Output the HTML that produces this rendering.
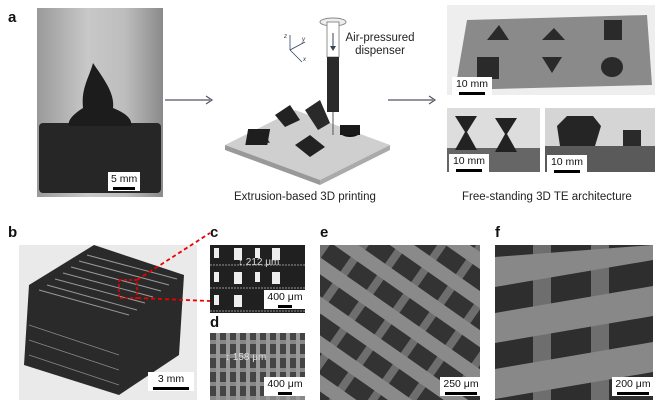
<!DOCTYPE html>
<html><head><meta charset="utf-8"><style>
html,body{margin:0;width:667px;height:412px;overflow:hidden}
body{background:#fff;position:relative;font-family:"Liberation Sans",sans-serif}
.a{position:absolute}
.lbl{position:absolute;font-weight:bold;font-size:15px;color:#111;line-height:15px}
.cap{position:absolute;font-size:11.5px;color:#222;white-space:nowrap}
.sb{position:absolute;background:#fff;font-size:10.5px;line-height:12px;color:#111;text-align:center;padding:1px 3px;white-space:nowrap}
.sb i{display:block;height:3px;background:#000;margin:2px auto 0}
</style></head><body>
<div class="lbl" style="left:8px;top:10px">a</div>
<div class="a" style="left:37px;top:8px;width:126px;height:189px;background:linear-gradient(90deg,#9a9a9a,#c8c8c8 40%,#bdbdbd 70%,#8a8a8a)"></div>
<div class="a" style="left:39px;top:123px;width:122px;height:70px;background:#262626;border-radius:4px"></div>
<svg class="a" style="left:37px;top:8px" width="126" height="189"><path d="M56,55 C52,70 44,80 46,100 C38,105 30,112 32,118 L94,118 C96,110 86,104 76,100 C78,85 66,70 56,55 Z" fill="#1c1c1c"/></svg>
<div class="sb" style="left:108px;top:172px;width:26px">5 mm<i style="width:22px"></i></div>
<svg class="a" style="left:160px;top:90px" width="60" height="20"><line x1="5" y1="10" x2="50" y2="10" stroke="#556" stroke-width="1.2"/><path d="M46,6 L52,10 L46,14" fill="none" stroke="#556" stroke-width="1.2"/></svg>
<svg class="a" style="left:383px;top:90px" width="60" height="20"><line x1="5" y1="10" x2="50" y2="10" stroke="#556" stroke-width="1.2"/><path d="M46,6 L52,10 L46,14" fill="none" stroke="#556" stroke-width="1.2"/></svg>
<svg class="a" style="left:220px;top:5px" width="175" height="185">
<polygon points="5,140 75,105 170,140 100,175" fill="#cfcfcf"/>
<polygon points="5,140 100,175 100,180 5,145" fill="#999"/>
<polygon points="100,175 170,140 170,145 100,180" fill="#aaa"/>
<polygon points="55,110 70,100 80,115 65,122" fill="#222"/>
<polygon points="30,135 42,124 50,138" fill="#333"/>
<rect x="50" y="124" width="22" height="16" fill="#1e1e1e" transform="skewX(-10)"/>
<polygon points="75,140 90,130 105,142 90,152" fill="#222"/>
<ellipse cx="130" cy="127" rx="10" ry="5" fill="#111"/><rect x="120" y="120" width="20" height="10" fill="#1a1a1a"/>
<polygon points="85,105 100,95 110,118 98,125" fill="#2a2a2a"/>
<ellipse cx="113" cy="17" rx="13" ry="4" fill="#eee" stroke="#888"/>
<rect x="107" y="17" width="12" height="35" fill="#fff" stroke="#777" stroke-width="0.8"/>
<rect x="107" y="52" width="12" height="55" fill="#2a2a2a"/>
<line x1="113" y1="107" x2="113" y2="130" stroke="#555"/>
<line x1="113" y1="28" x2="113" y2="44" stroke="#345"/><path d="M110,41 L113,46 L116,41Z" fill="#345"/>
<g stroke="#346" stroke-width="0.8" fill="none"><line x1="70" y1="45" x2="70" y2="30"/><line x1="70" y1="45" x2="85" y2="37"/><line x1="70" y1="45" x2="82" y2="57"/></g>
<text x="64" y="33" font-size="6" font-style="italic" fill="#334" font-family="Liberation Sans">z</text>
<text x="82" y="36" font-size="6" font-style="italic" fill="#334" font-family="Liberation Sans">y</text>
<text x="83" y="56" font-size="6" font-style="italic" fill="#334" font-family="Liberation Sans">x</text>
</svg>
<div class="cap" style="left:345px;top:32px;text-align:center;width:70px;line-height:13px">Air-pressured<br>dispenser</div>
<div class="cap" style="left:234px;top:191px">Extrusion-based 3D printing</div>
<div class="a" style="left:447px;top:5px;width:208px;height:90px;background:#eee"></div>
<svg class="a" style="left:447px;top:5px" width="208" height="90"><polygon points="20,15 200,10 205,80 8,85" fill="#8a8a8a"/>
<g fill="#2a2a2a"><polygon points="40,35 52,20 62,35"/><polygon points="95,35 107,23 118,35"/><rect x="157" y="15" width="18" height="20"/><rect x="30" y="52" width="22" height="22"/><polygon points="95,52 115,52 105,68"/><ellipse cx="165" cy="62" rx="11" ry="10"/></g></svg>
<div class="sb" style="left:452px;top:77px;width:34px">10 mm<i style="width:26px"></i></div>
<div class="a" style="left:447px;top:108px;width:93px;height:64px;background:#ddd"></div>
<svg class="a" style="left:447px;top:108px" width="93" height="64"><rect y="40" width="93" height="24" fill="#666"/><g fill="#222"><polygon points="8,8 30,8 20,24 30,42 8,42 18,24"/><polygon points="48,10 70,10 60,26 70,44 48,44 58,26"/></g></svg>
<div class="sb" style="left:449px;top:154px;width:34px">10 mm<i style="width:26px"></i></div>
<div class="a" style="left:545px;top:108px;width:110px;height:64px;background:#d5d5d5"></div>
<svg class="a" style="left:545px;top:108px" width="110" height="64"><rect y="38" width="110" height="26" fill="#5a5a5a"/><polygon points="12,18 22,8 48,8 56,18 50,38 15,38" fill="#252525"/><rect x="78" y="22" width="18" height="16" fill="#2a2a2a"/></svg>
<div class="sb" style="left:547px;top:155px;width:34px">10 mm<i style="width:26px"></i></div>
<div class="cap" style="left:462px;top:191px">Free-standing 3D TE architecture</div>

<div class="lbl" style="left:8px;top:225px">b</div>
<div class="a" style="left:19px;top:245px;width:178px;height:155px;background:#eaeaea"></div>
<svg class="a" style="left:19px;top:245px" width="178" height="155">
<polygon points="10,40 75,0 165,30 160,110 100,150 5,120" fill="#2a2a2a"/>
<g stroke="#999" stroke-width="1"><line x1="20" y1="45" x2="110" y2="70"/><line x1="28" y1="40" x2="118" y2="65"/><line x1="36" y1="34" x2="126" y2="58"/><line x1="44" y1="28" x2="134" y2="52"/><line x1="52" y1="22" x2="142" y2="46"/><line x1="60" y1="16" x2="150" y2="40"/><line x1="68" y1="10" x2="158" y2="34"/></g>
<g stroke="#888" stroke-width="0.8"><line x1="10" y1="80" x2="100" y2="110"/><line x1="10" y1="95" x2="100" y2="125"/><line x1="10" y1="110" x2="100" y2="140"/></g>
<rect x="100" y="35" width="18" height="18" fill="none" stroke="#e00" stroke-width="1.5" stroke-dasharray="3,2"/>
</svg>
<svg class="a" style="left:130px;top:228px" width="85" height="75"><line x1="7" y1="52" x2="80" y2="5" stroke="#e00" stroke-width="1.8" stroke-dasharray="4,3"/><line x1="7" y1="70" x2="80" y2="73" stroke="#e00" stroke-width="1.8" stroke-dasharray="4,3"/></svg>
<div class="sb" style="left:148px;top:372px;width:40px">3 mm<i style="width:36px"></i></div>
<div class="lbl" style="left:210px;top:225px">c</div>
<div class="a" style="left:210px;top:245px;width:95px;height:68px;background:#202020"></div>
<svg class="a" style="left:210px;top:245px" width="95" height="68"><g fill="#eee"><rect x="4" y="3" width="5" height="10"/><rect x="24" y="3" width="8" height="12"/><rect x="45" y="3" width="5" height="10"/><rect x="62" y="3" width="8" height="12"/><rect x="4" y="27" width="5" height="10"/><rect x="24" y="27" width="8" height="12"/><rect x="45" y="27" width="5" height="10"/><rect x="62" y="27" width="8" height="12"/><rect x="24" y="50" width="8" height="12"/><rect x="4" y="50" width="5" height="10"/></g><g stroke="#bbb" stroke-width="0.8" stroke-dasharray="2,1"><line x1="0" y1="20" x2="95" y2="20"/><line x1="0" y1="43" x2="95" y2="43"/><line x1="0" y1="66" x2="95" y2="66"/></g></svg>
<div class="a" style="left:238px;top:257px;font-size:10px;color:#ddd">↕ 212 μm</div>
<div class="sb" style="left:264px;top:290px;width:36px">400 μm<i style="width:14px"></i></div>
<div class="lbl" style="left:210px;top:315px">d</div>
<div class="a" style="left:210px;top:333px;width:95px;height:67px;background:repeating-linear-gradient(0deg,#888 0 4px,#444 4px 14px)"></div>
<div class="a" style="left:210px;top:333px;width:95px;height:67px;background:repeating-linear-gradient(90deg,transparent 0 6px,#999 6px 10px)"></div>
<div class="a" style="left:225px;top:352px;font-size:10px;color:#ddd">↕ 158 μm</div>
<div class="sb" style="left:264px;top:377px;width:36px">400 μm<i style="width:14px"></i></div>
<div class="lbl" style="left:320px;top:225px">e</div>
<svg class="a" style="left:320px;top:245px" width="160" height="155">
<defs><pattern id="pe" width="32" height="32" patternUnits="userSpaceOnUse" patternTransform="rotate(35)">
<rect width="32" height="32" fill="#333"/><rect x="0" y="0" width="8" height="32" fill="#6e6e6e"/><rect x="0" y="10" width="32" height="14" fill="#8a8a8a"/></pattern></defs>
<rect width="160" height="155" fill="url(#pe)"/></svg>
<div class="sb" style="left:440px;top:377px;width:36px">250 μm<i style="width:32px"></i></div>
<div class="lbl" style="left:495px;top:225px">f</div>
<svg class="a" style="left:495px;top:245px" width="158" height="155">
<rect width="158" height="155" fill="#2e2e2e"/>
<g fill="#6e6e6e"><rect x="38" y="0" width="18" height="155"/><rect x="96" y="0" width="18" height="155"/></g>
<g fill="#888"><polygon points="0,12 158,0 158,15 0,42"/><polygon points="0,68 158,41 158,71 0,98"/><polygon points="0,124 158,97 158,127 0,154"/></g>
</svg>
<div class="sb" style="left:612px;top:377px;width:36px">200 μm<i style="width:32px"></i></div>
</body></html>
